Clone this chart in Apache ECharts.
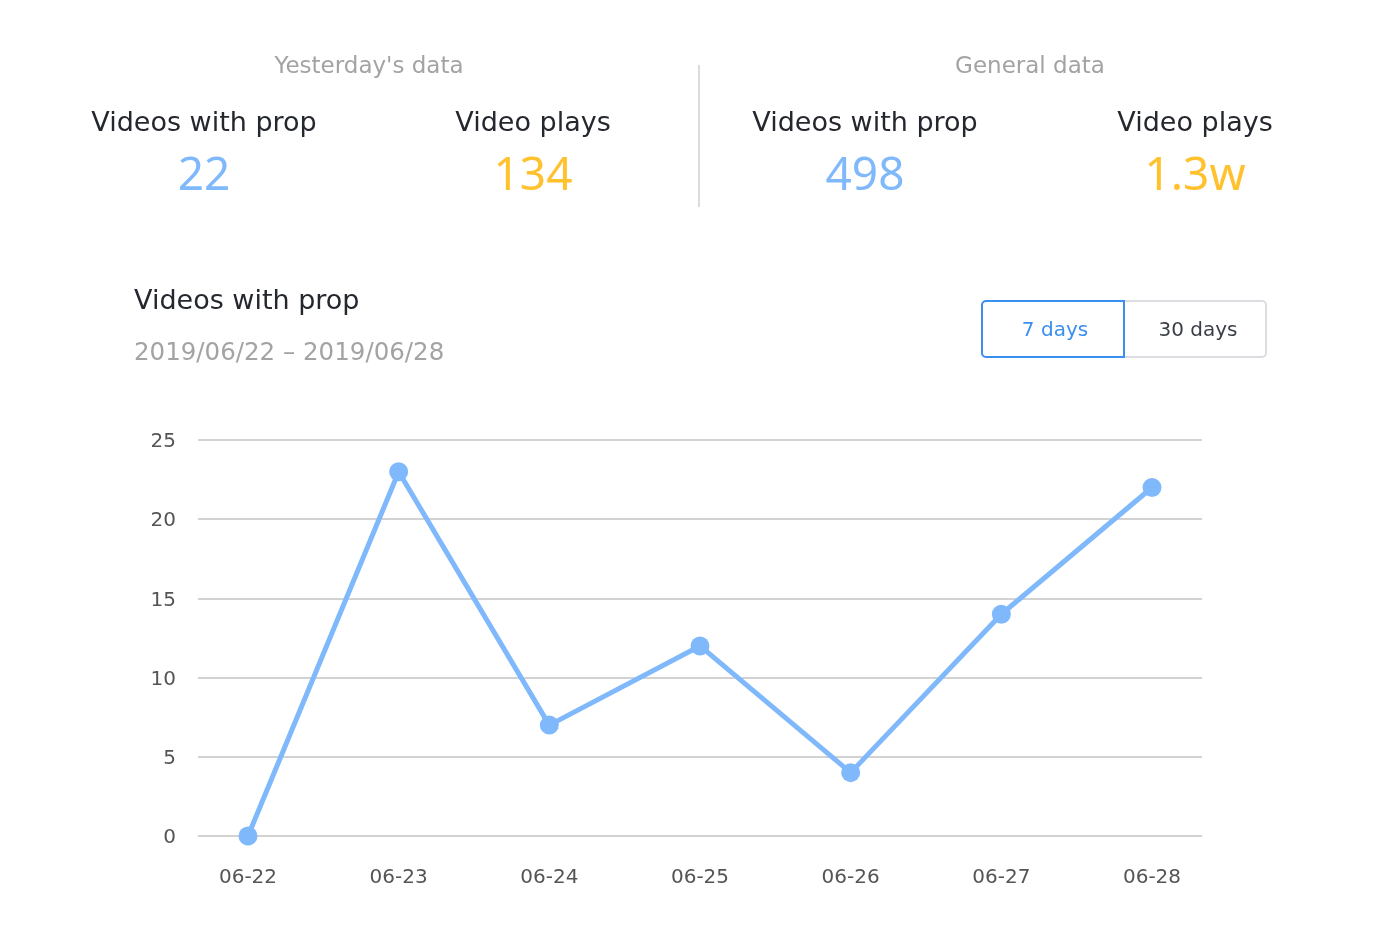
<!DOCTYPE html>
<html>
<head>
<meta charset="utf-8">
<script src="https://cdn.jsdelivr.net/npm/echarts@6/dist/echarts.min.js"></script>
<style>
html,body{margin:0;padding:0;background:#fff;}
#c{width:1400px;height:935px;}
</style>
</head>
<body>
<div id="c"></div>
<script>
var categories = ['06-22','06-23','06-24','06-25','06-26','06-27','06-28'];
var videosWithProp = [0, 23, 7, 12, 4, 14, 22];
var yTicks = [0, 5, 10, 15, 20, 25];
var summaryGroups = ["Yesterday's data", 'General data'];
var summaryLabels = ['Videos with prop', 'Video plays', 'Videos with prop', 'Video plays'];
var summaryValues = ['22', '134', '498', '1.3w'];
var chartTitle = 'Videos with prop';
var dateRange = '2019/06/22 \u2013 2019/06/28';
var rangeButtons = ['7 days', '30 days'];

var FONT = '"DejaVu Sans", "Noto Sans", sans-serif';
var NUMFONT = '"Noto Sans", Roboto, sans-serif';
var BLUE = '#80b9fb';
var YELLOW = '#ffc12e';
var chart = echarts.init(document.getElementById('c'), null, {renderer: 'canvas'});

function txt(x, y, s, size, color, align, font) {
  return {type: 'text', x: x, y: y, silent: true,
    style: {text: s, fontSize: size, fill: color, fontFamily: font || FONT,
      align: align || 'center', verticalAlign: 'middle'}};
}
var g = [];
g.push(txt(369, 67.5, summaryGroups[0], 23, '#a3a3a3'));
g.push(txt(1030, 67.5, summaryGroups[1], 23, '#a3a3a3'));
g.push({type: 'line', silent: true, shape: {x1: 699, y1: 65, x2: 699, y2: 207}, style: {stroke: '#dcdcdc', lineWidth: 2}});
var cx = [204, 533, 865, 1195];
for (var i = 0; i < 4; i++) {
  g.push(txt(cx[i], 124, summaryLabels[i], 27, '#24282e'));
  g.push(txt(cx[i], 177, summaryValues[i], 46, i % 2 === 0 ? BLUE : YELLOW, 'center', NUMFONT));
}
g.push(txt(134, 302, chartTitle, 27, '#24282e', 'left'));
g.push(txt(134, 353.5, dateRange, 24.5, '#a3a3a3', 'left'));
g.push({type: 'rect', silent: true, shape: {x: 1124, y: 301, width: 142, height: 56, r: [0, 4, 4, 0]}, style: {fill: '#fff', stroke: '#dcdde0', lineWidth: 2}});
g.push({type: 'rect', silent: true, shape: {x: 982, y: 301, width: 142, height: 56, r: [4, 0, 0, 4]}, style: {fill: '#fff', stroke: '#3b8ff0', lineWidth: 2}});
g.push(txt(1055, 331, rangeButtons[0], 20, '#3b8ff0'));
g.push(txt(1198, 331, rangeButtons[1], 20, '#3a3f47'));

var option = {
  animation: false,
  backgroundColor: '#fff',
  graphic: g,
  grid: [
    {left: 198, right: 198, top: 440, bottom: 99},
    {left: 248, right: 248, top: 440, bottom: 99}
  ],
  xAxis: [
    {gridIndex: 0, type: 'value', min: 0, max: 1, show: false},
    {gridIndex: 1, type: 'category', data: categories, boundaryGap: false,
      axisLine: {show: false}, axisTick: {show: false}, splitLine: {show: false},
      axisLabel: {color: '#555', fontSize: 20, margin: 32, fontFamily: FONT}}
  ],
  yAxis: [
    {gridIndex: 0, type: 'value', min: yTicks[0], max: yTicks[yTicks.length - 1], interval: yTicks[1] - yTicks[0],
      axisLine: {show: false}, axisTick: {show: false},
      splitLine: {lineStyle: {color: '#d2d2d2', width: 2}},
      axisLabel: {color: '#555', fontSize: 20, margin: 22, fontFamily: FONT,
        verticalAlign: 'top', lineHeight: 20, padding: [-8, 0, 0, 0]}},
    {gridIndex: 1, type: 'value', min: yTicks[0], max: yTicks[yTicks.length - 1], show: false}
  ],
  series: [{
    type: 'line', xAxisIndex: 1, yAxisIndex: 1, data: videosWithProp,
    symbol: 'circle', symbolSize: 19,
    lineStyle: {color: BLUE, width: 5},
    itemStyle: {color: BLUE},
    z: 5
  }]
};
chart.setOption(option);
</script>
</body>
</html>
